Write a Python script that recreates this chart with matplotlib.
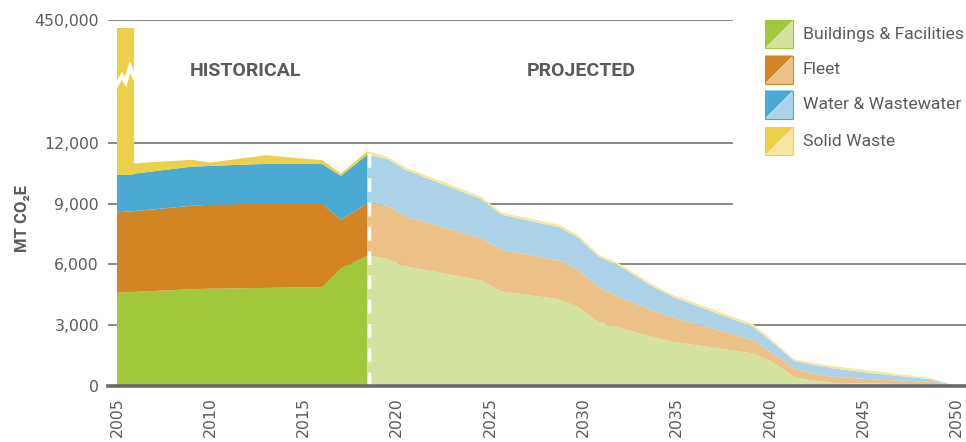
import numpy as np
import matplotlib
matplotlib.use("Agg")
import matplotlib.pyplot as plt
from matplotlib.patches import Polygon

# historical inventory (MT CO2e)
hist_years = [2005, 2006, 2009, 2010, 2013, 2016, 2017, 2018.4]
hist_buildings = [4610, 4650, 4780, 4805, 4845, 4885, 5800, 6410]
hist_fleet = [3965, 3990, 4120, 4145, 4165, 4100, 2415, 2610]
hist_water = [1840, 1855, 1930, 1920, 1960, 1975, 2165, 2390]
hist_solid = [505, 505, 340, 165, 425, 190, 115, 165]
solid_waste_2005 = 412000  # off the chart, drawn with a broken axis

# projection
proj_years = [2018.4, 2019.5, 2020.5, 2024.5, 2025.6, 2028.7, 2029.7, 2030.8, 2031.9,
              2033.8, 2034.8, 2039.1, 2040.2, 2041.3, 2042.2, 2043.4, 2045.9, 2048.6, 2050]
proj_buildings = [6445, 6280, 5903, 5214, 4673, 4280, 3900, 3163, 2880,
                  2400, 2180, 1607, 1148, 426, 290, 150, 120, 60, 0]
proj_fleet = [2622, 2623, 2459, 2099, 2051, 1918, 1840, 1721, 1510,
              1283, 1200, 656, 426, 443, 333, 300, 187, 153, 0]
proj_water = [2378, 2297, 2298, 1919, 1736, 1638, 1605, 1510, 1562,
              1169, 1013, 655, 525, 361, 447, 419, 283, 116, 0]
proj_solid = [165, 115, 125, 130, 115, 130, 115, 100, 105,
              105, 105, 130, 100, 80, 90, 110, 110, 50, 0]

sectors = ["Buildings & Facilities", "Fleet", "Water & Wastewater", "Solid Waste"]
dark = ["#A0C83A", "#D38424", "#4AAAD3", "#ECD04A"]
light = ["#D3E29E", "#EBC187", "#ABD2E6", "#F8E6A0"]

y_ticks = [0, 3000, 6000, 9000, 12000, 450000]
x_ticks = list(range(2005, 2051, 5))

GRAY = "#5b5b5b"
NARROW = ["Roboto", "DejaVu Sans"]

# broken y axis: linear up to 12,000, compressed above
BREAK = 12000
K = 6074 / 438000


def fwd(v):
    v = np.asarray(v, dtype=float)
    return np.where(v <= BREAK, v, BREAK + (v - BREAK) * K)


def inv(v):
    v = np.asarray(v, dtype=float)
    return np.where(v <= BREAK, v, BREAK + (v - BREAK) / K)


W, H = 966, 442
fig = plt.figure(figsize=(W / 100, H / 100), dpi=100)
ax = fig.add_axes([108 / W, 1 - 386 / H, 1 - 108 / W, (386 - 20) / H])
ax.set_yscale("function", functions=(fwd, inv))
ax.set_xlim(2004.52, 2050.5)
ax.set_ylim(0, 450000)


def px(x, y):
    return (x / W, 1 - y / H)


# gridlines
for yv in y_ticks[1:]:
    xmax = 0.727 if yv >= 9000 else 1.0
    ax.axhline(yv, 0, xmax, color="#7f7f7f", lw=1.3, zorder=0)
ax.axhline(0, color="#6a6a6a", lw=2.6, zorder=5, clip_on=False)

ax.stackplot(hist_years, hist_buildings, hist_fleet, hist_water, hist_solid,
             colors=dark, lw=0, zorder=2)
ax.stackplot(proj_years, proj_buildings, proj_fleet, proj_water, proj_solid,
             colors=light, lw=0, zorder=2)

# 2005 solid waste spike
base_2005 = hist_buildings[0] + hist_fleet[0] + hist_water[0]
ax.bar(hist_years[0], solid_waste_2005, bottom=base_2005, width=0.9, align="edge",
       color=dark[3], lw=0, zorder=3)
zig = [px(116.5, 85), px(122, 76), px(125.5, 82), px(130, 67), px(134.8, 78)]
fig.add_artist(plt.Line2D([p[0] for p in zig], [p[1] for p in zig], color="white",
                          lw=3, solid_joinstyle="miter", zorder=6))

# historical / projected divider
top_split = proj_buildings[0] + proj_fleet[0] + proj_water[0] + proj_solid[0]
ax.plot([2018.5, 2018.5], [0, top_split], color="white", lw=2.5,
        dashes=(4, 3), zorder=4)

ax.text(*px(245, 71), "HISTORICAL", transform=fig.transFigure, ha="center", va="center",
        fontsize=14, fontweight="bold", color=GRAY, family=NARROW)
ax.text(*px(581, 71), "PROJECTED", transform=fig.transFigure, ha="center", va="center",
        fontsize=14, fontweight="bold", color=GRAY, family=NARROW)

ax.set_yticks(y_ticks)
ax.set_yticklabels([f"{v:,}" for v in y_ticks])
ax.set_xticks(x_ticks)
ax.set_xticklabels([str(v) for v in x_ticks], rotation=90)
ax.tick_params(axis="both", length=0, labelsize=11.3, labelcolor=GRAY)
ax.tick_params(axis="y", pad=6.5)
ax.tick_params(axis="x", pad=8)
ax.minorticks_off()
for s in ax.spines.values():
    s.set_visible(False)

fig.text(*px(22, 218), "MT CO\u2082E", rotation=90, ha="center", va="center",
         fontsize=12, fontweight="bold", color=GRAY, family=NARROW)

# legend with split swatches (dark upper-left, light lower-right)
rows = [34, 69.5, 104.5, 141]
for name, c1, c2, yc in zip(sectors, dark, light, rows):
    x0, x1, y0, y1 = 765, 793, yc - 14, yc + 14
    fig.add_artist(Polygon([px(x1, y0), px(x1, y1), px(x0, y1)], closed=True,
                           transform=fig.transFigure, fc=c2, ec="none"))
    fig.add_artist(Polygon([px(x0, y0), px(x1, y0), px(x0, y1)], closed=True,
                           transform=fig.transFigure, fc=c1, ec="none"))
    fig.add_artist(Polygon([px(x0, y0), px(x1, y0), px(x1, y1), px(x0, y1)], closed=True,
                           transform=fig.transFigure, fc="none", ec=c1, lw=0.8))
    fig.text(*px(803, yc), name, ha="left", va="center", fontsize=12.6,
             color=GRAY, family=NARROW)

fig.savefig("out.png", dpi=100)
